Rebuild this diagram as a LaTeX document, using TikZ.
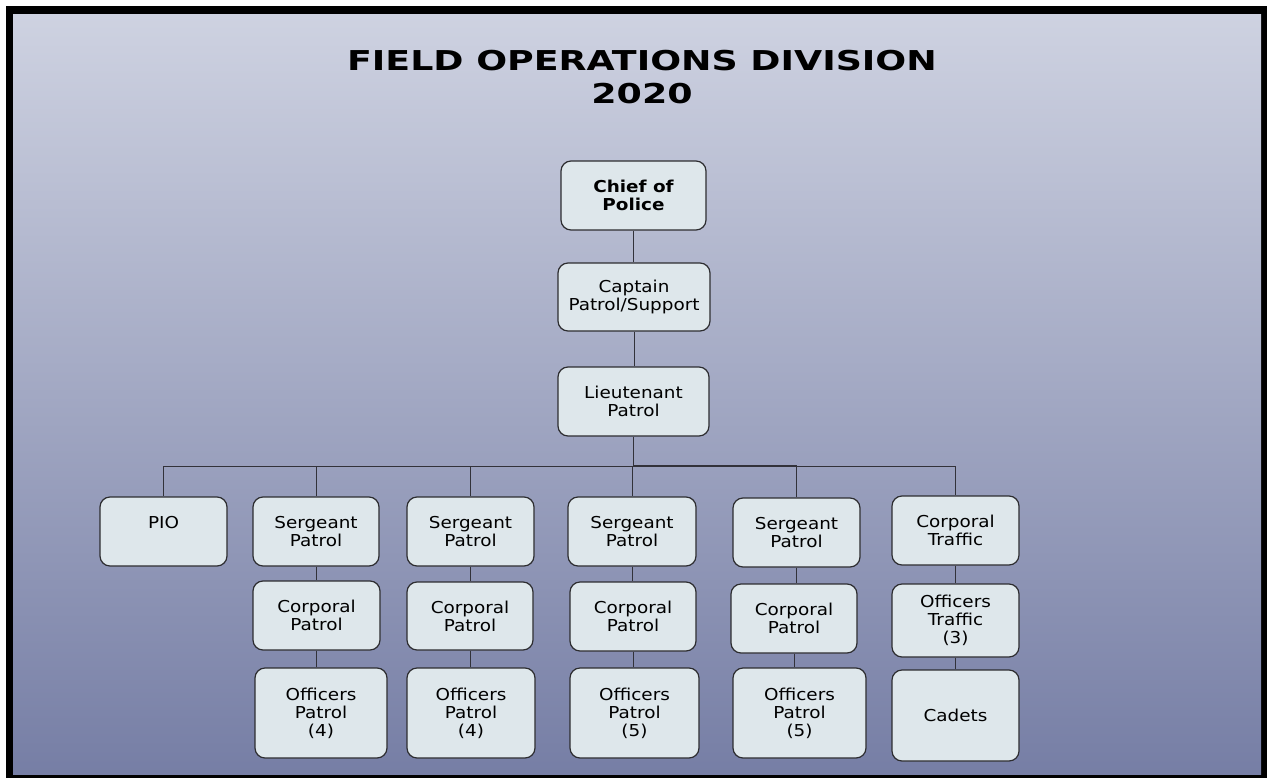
\documentclass[tikz,border=0pt]{standalone}
\usepackage{fontspec}
\usepackage{graphicx}
\setmainfont{DejaVu Sans}[FakeStretch=1.12]
\newfontfamily\titlefont{DejaVu Sans}[FakeStretch=1.33]
\usetikzlibrary{calc}
\definecolor{boxfill}{RGB}{222,231,235}
\definecolor{boxline}{RGB}{45,45,48}
\definecolor{bgtop}{RGB}{206,210,225}
\definecolor{bgbot}{RGB}{118,126,165}
\definecolor{connc}{RGB}{50,50,58}
\tikzset{
  orgnode/.style={draw=boxline, fill=boxfill, line width=0.9pt, rounded corners=7.5pt,
    align=center, inner sep=0pt, font=\fontsize{12.3}{13.5}\selectfont},
  conn/.style={draw=connc, line width=0.75pt},
  busthick/.style={draw=connc, line width=1.5pt}
}
\newcommand\orgbox[6]{\node[orgnode, minimum width={(#4-#2)*0.75pt}, minimum height={(#5-#3)*0.75pt}] (#1) at ({(#2+#4)/2},{(#3+#5)/2}) {#6};}
\begin{document}
\begin{tikzpicture}[x=0.75pt,y=-0.75pt]
\useasboundingbox (0,0) rectangle (1267,778);
\fill[white] (0,0) rectangle (1267,778);
\fill[black] (6,6) rectangle (1267,778);
\shade[top color=bgtop, bottom color=bgbot] (13,14) rectangle (1261,774);

\node[inner sep=0pt, align=center, font=\titlefont\bfseries\fontsize{20.5}{25}\selectfont] (title) at (642,77) {FIELD OPERATIONS DIVISION\\2020};

\orgbox{chief}{561}{161}{706}{230}{\bfseries Chief of\\\bfseries Police}
\orgbox{cap}{558}{263}{710}{331}{Captain\\Patrol/Support}
\orgbox{lt}{558}{367}{709}{436}{Lieutenant\\Patrol}

\orgbox{pio}{100}{497}{227}{566}{PIO\\\phantom{P}}
\orgbox{s1}{253}{497}{379}{566}{Sergeant\\Patrol}
\orgbox{c1}{253}{581}{380}{650}{Corporal\\Patrol}
\orgbox{o1}{255}{668}{387}{758}{Officers\\Patrol\\(4)}
\orgbox{s2}{407}{497}{534}{566}{Sergeant\\Patrol}
\orgbox{c2}{407}{582}{533}{650}{Corporal\\Patrol}
\orgbox{o2}{407}{668}{535}{758}{Officers\\Patrol\\(4)}
\orgbox{s3}{568}{497}{696}{566}{Sergeant\\Patrol}
\orgbox{c3}{570}{582}{696}{651}{Corporal\\Patrol}
\orgbox{o3}{570}{668}{699}{758}{Officers\\Patrol\\(5)}
\orgbox{s4}{733}{498}{860}{567}{Sergeant\\Patrol}
\orgbox{c4}{731}{584}{857}{653}{Corporal\\Patrol}
\orgbox{o4}{733}{668}{866}{758}{Officers\\Patrol\\(5)}
\orgbox{ct}{892}{496}{1019}{565}{Corporal\\Traffic}
\orgbox{ot}{892}{584}{1019}{657}{Officers\\Traffic\\(3)}
\orgbox{cad}{892}{670}{1019}{761}{Cadets}

\draw[conn] (chief.south) -- (chief.south |- cap.north);
\draw[conn] (cap.south) -- (cap.south |- lt.north);

\coordinate (bus) at (633,466);
\draw[conn] (lt.south) -- (lt.south |- bus);
\draw[conn] (lt.south |- bus) -| (pio.north);
\draw[conn] (lt.south |- bus) -| (s1.north);
\draw[conn] (lt.south |- bus) -| (s2.north);
\draw[conn] (lt.south |- bus) -| (s3.north);
\draw[conn] (lt.south |- bus) -| (s4.north);
\draw[busthick] (lt.south |- bus) -- (bus -| s4.north);
\draw[conn] (lt.south |- bus) -| (ct.north);

\foreach \p/\c in {s1/c1,c1/o1,s2/c2,c2/o2,s3/c3,c3/o3,s4/c4,c4/o4,ct/ot,ot/cad}{
  \draw[conn] (\p.south) -- (\p.south |- \c.north);
}
\end{tikzpicture}
\end{document}
